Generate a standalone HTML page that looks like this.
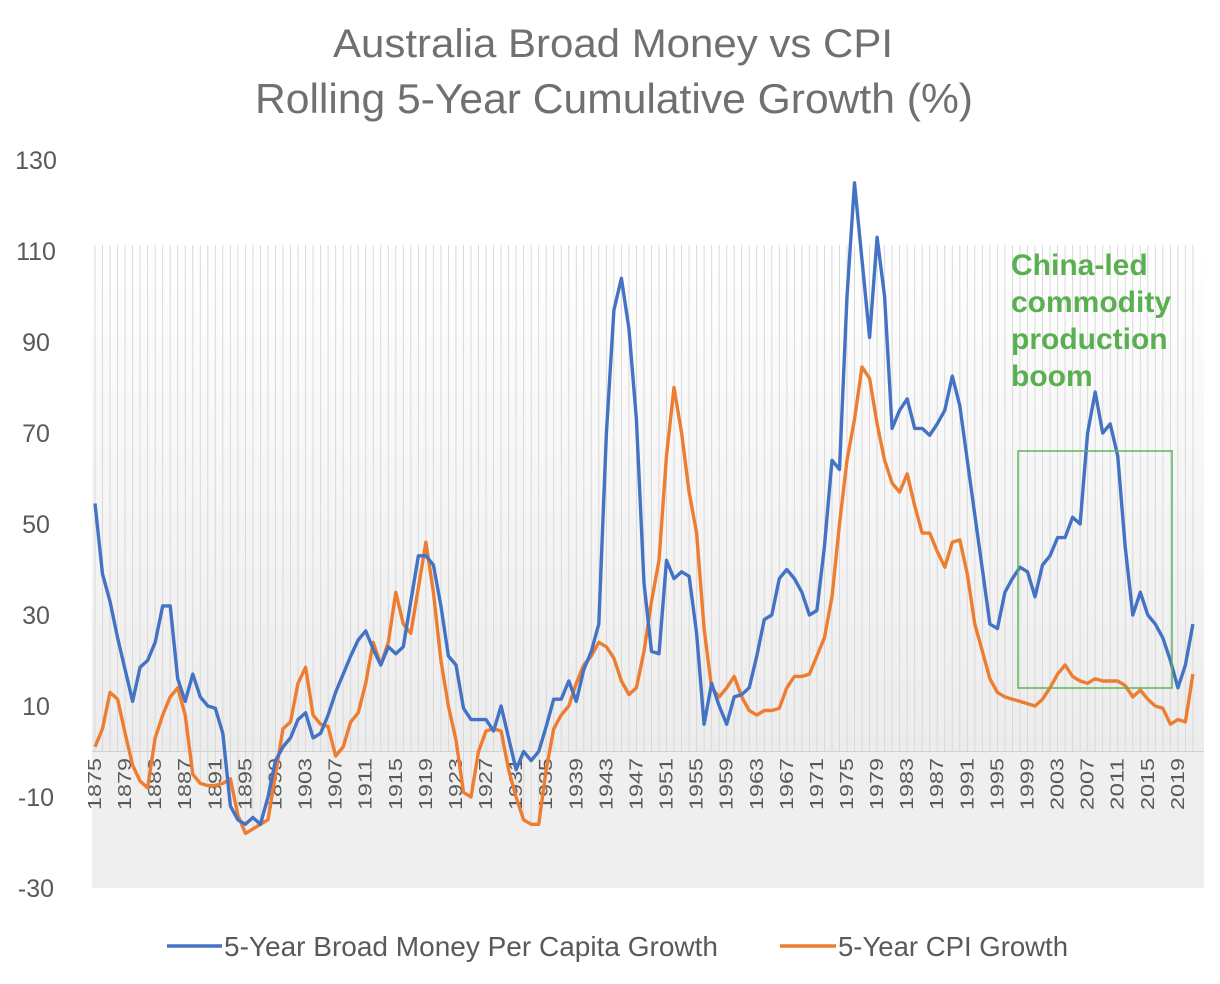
<!DOCTYPE html>
<html><head><meta charset="utf-8">
<style>
html,body{margin:0;padding:0;background:#fff;}
svg{display:block;font-family:"Liberation Sans",sans-serif;}
</style></head>
<body>
<svg id="chart" width="1220" height="984" viewBox="0 0 1220 984">
<defs>
<linearGradient id="bg" x1="0" y1="0" x2="0" y2="1">
<stop offset="0" stop-color="#ffffff"/>
<stop offset="1" stop-color="#ececec"/>
</linearGradient>
</defs>
<text x="613" y="57" text-anchor="middle" font-size="40" fill="#707070" textLength="560" lengthAdjust="spacingAndGlyphs">Australia Broad Money vs CPI</text>
<text x="614" y="113" text-anchor="middle" font-size="42" fill="#707070" textLength="718" lengthAdjust="spacingAndGlyphs">Rolling 5-Year Cumulative Growth (%)</text>
<rect x="92" y="240" width="1112" height="512" fill="url(#bg)"/>
<rect x="92" y="752" width="1112" height="136" fill="#efefef"/>
<g id="grid"></g>
<g id="yticks"></g>
<g id="xticks"></g>
<g id="series"></g>
<rect x="1018" y="451" width="154" height="237" fill="none" stroke="#5fb35a" stroke-width="1.5"/>
<g font-size="30" font-weight="bold" fill="#5aaf50">
<text x="1011" y="275">China-led</text>
<text x="1011" y="312">commodity</text>
<text x="1011" y="349">production</text>
<text x="1011" y="386">boom</text>
</g>
<g>
<line x1="167" y1="946" x2="222" y2="946" stroke="#4472c4" stroke-width="3.5"/>
<text x="224" y="956" font-size="28" fill="#595959" textLength="494" lengthAdjust="spacingAndGlyphs">5-Year Broad Money Per Capita Growth</text>
<line x1="780" y1="946" x2="836" y2="946" stroke="#ed7d31" stroke-width="3.5"/>
<text x="838" y="956" font-size="28" fill="#595959" textLength="230" lengthAdjust="spacingAndGlyphs">5-Year CPI Growth</text>
</g>
</svg>
<script>
const startYear = 1875;
const moneyGrowth = [54.5,39,33,25,18,11,18.5,20,24,32,32,16,11,17,12,10,9.5,4,-12,-15,-16,-14.5,-16,-10,-2,1,3,7,8.5,3,4,8,13,17,21,24.5,26.5,22.5,19,23,21.5,23,33,43,43,41,32,21,19,9.5,7,7,7,4.5,10,3,-4,0,-2,0,5.5,11.5,11.5,15.5,11,18,22,28,70,97,104,93,73,37,22,21.5,42,38,39.5,38.5,26,6,15,10,6,12,12.5,14,21,29,30,38,40,38,35,30,31,45,64,62,100,125,108,91,113,100,71,75,77.5,71,71,69.5,72,75,82.5,76,64,52,40,28,27,35,38,40.5,39.5,34,41,43,47,47,51.5,50,70,79,70,72,65,45,30,35,30,28,25,20,14,19,28];
const cpiGrowth = [1,5,13,11.5,4,-3,-6.5,-8,3,8,12,14,8,-5,-7,-7.5,-7.5,-7,-6,-14,-18,-17,-16,-15,-5,5,6.5,15,18.5,8,6,5.5,-1,1,6.5,8.5,15,24,19,24,35,28,26,36,46,35,20,10,2.5,-9,-10,0,4.5,5,4.5,-4,-10,-15,-16,-16,-4,5,8,10,15,19,21,24,23,20.5,15.5,12.5,14,22,33,42,65,80,70,57,48,27,14,12,14,16.5,12,9,8,9,9,9.5,14,16.5,16.5,17,21,25,34,50,64,73,84.5,82,72,64,59,57,61,54,48,48,44,40.5,46,46.5,39,28,22,16,13,12,11.5,11,10.5,10,11.5,14,17,19,16.5,15.5,15,16,15.5,15.5,15.5,14.5,12,13.5,11.5,10,9.5,6,7,6.5,17];
const yTicks = [130,110,90,70,50,30,10,-10,-30];

const NS = "http://www.w3.org/2000/svg";
function xs(i){ return 95 + i*7.52; }
function ys(v){ return 160 + (130 - v)*4.55; }
function mk(tag, attrs, parent){
  const e = document.createElementNS(NS, tag);
  for (const k in attrs) e.setAttribute(k, attrs[k]);
  parent.appendChild(e);
  return e;
}
const grid = document.getElementById('grid');
const yt = document.getElementById('yticks');
const xt = document.getElementById('xticks');
const ser = document.getElementById('series');

for (let i = 0; i < moneyGrowth.length; i++) {
  const low = Math.min(0, moneyGrowth[i], cpiGrowth[i]);
  const g = mk('line', {x1: xs(i), x2: xs(i), y1: 245, y2: ys(low), stroke: '#d6d6d6', 'stroke-width': 0.9}, grid);
  
  
}
const zl = mk('line', {x1: 92, x2: 1204, y1: ys(0), y2: ys(0), stroke: '#d0d0d0', 'stroke-width': 1}, grid);



yTicks.forEach(v => {
  const t = mk('text', {x: 36, y: ys(v) + 9, 'text-anchor': 'middle', 'font-size': 25, fill: '#595959'}, yt);
  t.textContent = v;
  
  
});

for (let i = 0; i < moneyGrowth.length; i += 4) {
  const x = xs(i) + 6, y = 758;
  const t = mk('text', {x: x, y: y, 'text-anchor': 'end', 'font-size': 18, fill: '#595959', textLength: 52, lengthAdjust: 'spacingAndGlyphs', transform: 'rotate(-90 ' + x + ' ' + y + ')'}, xt);
  t.textContent = startYear + i;
  
  
}

function pathFor(arr){ return arr.map((v, i) => (i ? 'L' : 'M') + xs(i).toFixed(1) + ' ' + ys(v).toFixed(1)).join(' '); }
const pc = mk('path', {d: pathFor(cpiGrowth), fill: 'none', stroke: '#ed7d31', 'stroke-width': 3.4, 'stroke-linejoin': 'round'}, ser);


const pm = mk('path', {d: pathFor(moneyGrowth), fill: 'none', stroke: '#4472c4', 'stroke-width': 3.4, 'stroke-linejoin': 'round'}, ser);


</script>
</body></html>
